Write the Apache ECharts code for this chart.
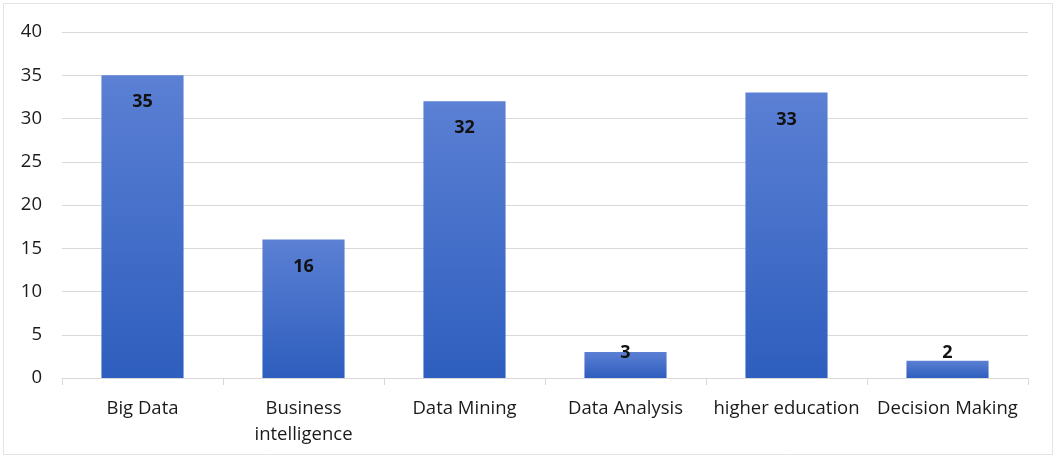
<!DOCTYPE html>
<html><head><meta charset="utf-8">
<script src="https://cdn.jsdelivr.net/npm/echarts@6/dist/echarts.min.js"></script>
<style>html,body{margin:0;padding:0;background:#fff}#c{width:1056px;height:460px}</style>
</head><body><div id="c"></div>
<script>
const categories = ['Big Data', 'Business\nintelligence', 'Data Mining', 'Data Analysis', 'higher education', 'Decision Making'];
const values = [35, 16, 32, 3, 33, 2];
const yTicks = { min: 0, max: 40, interval: 5 };

const chart = echarts.init(document.getElementById('c'));
const font = '"Open Sans", "Liberation Sans", sans-serif';
const data = values.map(v => v < 5 ? {
  value: v,
  label: { position: 'insideBottom', distance: 16 }
} : { value: v });

chart.setOption({
  animation: false,
  backgroundColor: '#fff',
  graphic: [{
    type: 'rect', shape: { x: 3.5, y: 3.5, width: 1049, height: 451 },
    style: { fill: 'none', stroke: '#e3e3e3', lineWidth: 1 }, silent: true
  }],
  grid: { left: 62, right: 28, top: 32, bottom: 82 },
  xAxis: {
    type: 'category', data: categories,
    axisLine: { lineStyle: { color: '#d9d9d9', width: 1 } },
    axisTick: { show: true, length: 7, lineStyle: { color: '#d9d9d9' } },
    axisLabel: { color: '#1a1a1a', fontSize: 18.5, fontFamily: font, margin: 18, lineHeight: 26, interval: 0 }
  },
  yAxis: {
    type: 'value', min: yTicks.min, max: yTicks.max, interval: yTicks.interval,
    axisLine: { show: false }, axisTick: { show: false },
    splitLine: { lineStyle: { color: '#d9d9d9', width: 1 } },
    axisLabel: { color: '#1a1a1a', fontSize: 18.5, fontFamily: font, margin: 20 }
  },
  series: [{
    type: 'bar', data: data, barWidth: '51%',
    itemStyle: {
      color: new echarts.graphic.LinearGradient(0, 0, 0, 1, [
        { offset: 0, color: '#5b80d4' }, { offset: 1, color: '#2e5ebe' }
      ])
    },
    label: { show: true, position: 'insideTop', distance: 18, color: '#111', fontWeight: 'bold', fontSize: 18, fontFamily: font }
  }]
});
</script></body></html>
